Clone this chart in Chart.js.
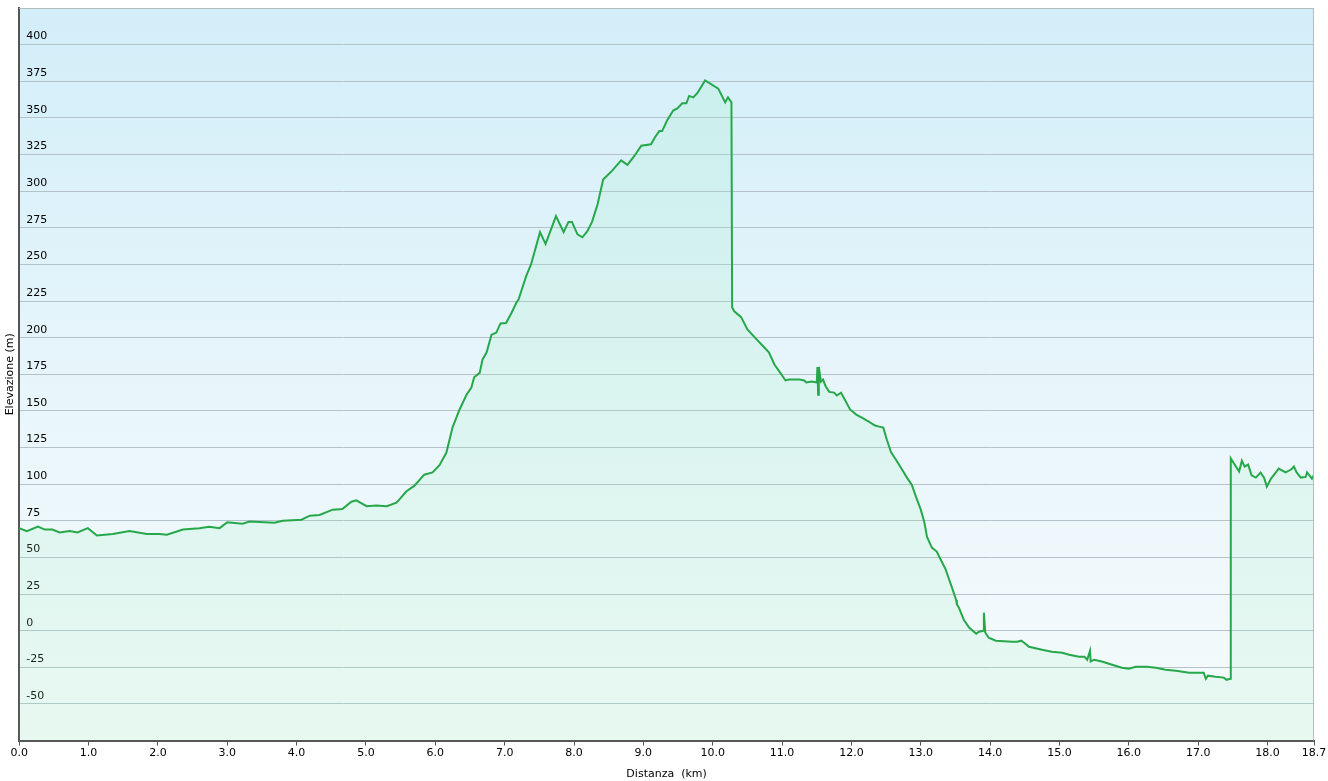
<!DOCTYPE html>
<html>
<head>
<meta charset="utf-8">
<script src="https://cdn.jsdelivr.net/npm/chart.js@4/dist/chart.umd.min.js"></script>
<style>
  html, body { margin: 0; padding: 0; background: #fff; }
  #wrap { width: 1328px; height: 781px; position: relative; }
</style>
</head>
<body>
<div id="wrap"><canvas id="chart-profile"></canvas></div>
<script>
/* eslint-disable no-undef */
// track profile: distance (km) and elevation (m)
const distanceKm = [
  0.00, 0.11, 0.27, 0.37, 0.48, 0.58, 0.73, 0.84, 0.99, 1.12, 1.35, 1.59, 1.84, 2.02, 2.13, 2.36,
  2.60, 2.74, 2.89, 3.00, 3.22, 3.32, 3.68, 3.80, 4.07, 4.19, 4.33, 4.52, 4.66, 4.79, 4.86, 5.01,
  5.15, 5.30, 5.44, 5.48, 5.58, 5.70, 5.84, 5.96, 6.06, 6.16, 6.25, 6.35, 6.45, 6.52, 6.56, 6.64,
  6.68, 6.74, 6.81, 6.88, 6.94, 7.02, 7.10, 7.17, 7.20, 7.31, 7.38, 7.51, 7.59, 7.74, 7.85, 7.92,
  7.97, 8.05, 8.12, 8.19, 8.26, 8.34, 8.42, 8.55, 8.68, 8.77, 8.87, 8.97, 9.11, 9.17, 9.23, 9.27,
  9.34, 9.43, 9.49, 9.56, 9.62, 9.66, 9.72, 9.78, 9.89, 10.08, 10.18, 10.22, 10.27, 10.28, 10.31, 10.41,
  10.50, 10.63, 10.71, 10.81, 10.89, 10.96, 11.05, 11.10, 11.25, 11.32, 11.35, 11.43, 11.50, 11.51, 11.52, 11.53,
  11.56, 11.59, 11.63, 11.68, 11.75, 11.79, 11.85, 11.89, 11.98, 12.07, 12.15, 12.25, 12.34, 12.40, 12.46, 12.51,
  12.57, 12.64, 12.73, 12.80, 12.87, 12.93, 13.00, 13.05, 13.09, 13.16, 13.23, 13.31, 13.36, 13.41, 13.45, 13.51,
  13.52, 13.55, 13.62, 13.70, 13.80, 13.84, 13.90, 13.91, 13.93, 13.98, 14.08, 14.32, 14.39, 14.45, 14.49, 14.56,
  14.75, 14.89, 15.04, 15.14, 15.28, 15.36, 15.40, 15.44, 15.45, 15.50, 15.61, 15.76, 15.90, 16.00, 16.10, 16.26,
  16.39, 16.53, 16.68, 16.87, 17.01, 17.08, 17.11, 17.14, 17.25, 17.37, 17.41, 17.46, 17.47, 17.59, 17.63, 17.67,
  17.72, 17.77, 17.83, 17.90, 17.95, 17.99, 18.05, 18.12, 18.16, 18.26, 18.34, 18.38, 18.42, 18.48, 18.55, 18.57,
  18.64, 18.67
]
const elevationM = [
  70, 68, 71, 69, 69, 67, 68, 67, 70, 65, 66, 68, 66, 66, 65.5, 69,
  70, 71, 70, 74, 73, 74.5, 73.7, 75, 75.8, 78.5, 79, 82.6, 83, 88, 89, 85,
  85.4, 85, 87.4, 89.5, 95, 99, 106.5, 108, 113, 121.6, 139, 151, 161, 166, 173, 176,
  185, 190, 202, 203.5, 209.7, 210, 217, 224, 226, 242, 250, 272, 264, 283, 272, 279,
  279, 270.5, 268.5, 272.5, 279, 291, 308, 314, 321, 318, 324, 331, 332, 337, 341, 341,
  348, 355, 356.5, 360, 360, 365, 364, 367, 375.6, 370, 360.6, 364, 360.6, 220.6, 218, 214,
  205.6, 199, 195, 190, 181.7, 177, 170.8, 171.4, 171.4, 170.8, 169.4, 170, 169.4, 180, 161, 180,
  170, 171.4, 166.7, 163, 162.5, 160.5, 162.5, 159, 151, 147.5, 145.5, 142.7, 140, 139.3, 138.6, 130.5,
  122, 116.8, 110, 104.5, 99.7, 91.5, 82.6, 74.4, 64, 56.7, 54, 46.4, 41.7, 34.8, 29.4, 21,
  18, 15.7, 7.5, 2, -2, -0.7, 0, 12.3, -1.4, -4.8, -6.8, -7.5, -7.5, -6.8, -8.2, -11,
  -13, -14.3, -15, -16.4, -17.8, -17.8, -19.8, -13.7, -21, -19.8, -21, -23.2, -25.3, -26, -24.6, -24.6,
  -25.3, -26.6, -27.3, -28.7, -28.7, -28.7, -32.8, -30.7, -31.4, -32, -33.5, -32.8, 117.5, 108.6, 116, 112,
  113.4, 106, 104.5, 108, 104.5, 98.4, 103.8, 108, 110.6, 108, 110, 112, 108, 104.5, 105, 108,
  103.8, 106.5
]
const xTickValues = [0, 1, 2, 3, 4, 5, 6, 7, 8, 9, 10, 11, 12, 13, 14, 15, 16, 17, 18, 18.67]
const yMin = -75
const yMax = 425

const fontSpec = { family: 'Verdana, "DejaVu Sans", sans-serif', size: 11 }

// sky-like background plus a thin frame on top/right
const plotBackground = {
  id: 'plotBackground',
  beforeDraw (chart) {
    const { ctx, chartArea: a } = chart
    const g = ctx.createLinearGradient(0, a.top, 0, a.bottom)
    g.addColorStop(0, '#d2eef9')
    g.addColorStop(0.55, '#e9f6fb')
    g.addColorStop(1, '#f5fbfc')
    ctx.save()
    ctx.fillStyle = g
    ctx.fillRect(a.left, a.top, a.right - a.left, a.bottom - a.top)
    ctx.restore()
  },
  afterDraw (chart) {
    const { ctx, chartArea: a } = chart
    ctx.save()
    ctx.strokeStyle = '#b4bcc0'
    ctx.lineWidth = 1
    ctx.beginPath()
    ctx.moveTo(a.left, a.top + 0.5)
    ctx.lineTo(a.right - 0.5, a.top + 0.5)
    ctx.lineTo(a.right - 0.5, a.bottom)
    ctx.stroke()
    ctx.restore()
  }
}

const chartElement = document.getElementById('chart-profile').getContext('2d')

const profileChart = new Chart(chartElement, {
  type: 'line',
  data: {
    datasets: [{
      label: 'Elevazione',
      data: distanceKm.map((d, i) => ({ x: d, y: elevationM[i] })),
      borderColor: '#26a84a',
      borderWidth: 2,
      pointRadius: 0,
      tension: 0,
      fill: 'start',
      backgroundColor: (context) => {
        const a = context.chart.chartArea
        if (!a) return 'rgba(120,230,170,0.15)'
        const g = context.chart.ctx.createLinearGradient(0, a.top, 0, a.bottom)
        g.addColorStop(0, 'rgba(150,240,190,0.18)')
        g.addColorStop(1, 'rgba(150,235,175,0.14)')
        return g
      }
    }]
  },
  options: {
    responsive: true,
    maintainAspectRatio: false,
    animation: false,
    layout: { padding: { top: 8, right: 14, left: 0, bottom: 0 } },
    plugins: {
      legend: { display: false },
      tooltip: { enabled: false }
    },
    scales: {
      x: {
        type: 'linear',
        min: 0,
        max: 18.67,
        afterBuildTicks: (scale) => {
          scale.ticks = xTickValues.map(v => ({ value: v }))
        },
        ticks: {
          autoSkip: false,
          maxRotation: 0,
          padding: 1,
          color: '#000',
          font: fontSpec,
          callback: (v) => Number(v).toFixed(1)
        },
        grid: {
          drawOnChartArea: false,
          drawTicks: true,
          tickLength: 5,
          color: '#555'
        },
        border: { display: true, color: '#555', width: 2 },
        title: {
          display: true,
          text: 'Distanza  (km)',
          color: '#000',
          font: fontSpec,
          padding: { top: 7, bottom: 0 }
        }
      },
      y: {
        min: yMin,
        max: yMax,
        afterFit: (scale) => {
          scale.paddingTop = 0
          scale.paddingBottom = 0
        },
        ticks: {
          stepSize: 25,
          mirror: true,
          padding: 7,
          labelOffset: -8,
          color: '#000',
          font: fontSpec,
          callback: (v) => (v === yMin || v === yMax) ? '' : v
        },
        grid: {
          drawTicks: false,
          color: (ctx) => (ctx.tick && ctx.tick.value === yMin) ? 'rgba(0,0,0,0)' : '#b3c3c9'
        },
        border: { display: true, color: '#555', width: 2 },
        title: {
          display: true,
          text: 'Elevazione (m)',
          color: '#000',
          font: fontSpec,
          padding: { top: 4, bottom: -12 }
        }
      }
    }
  },
  plugins: [plotBackground]
})
</script>
</body>
</html>
